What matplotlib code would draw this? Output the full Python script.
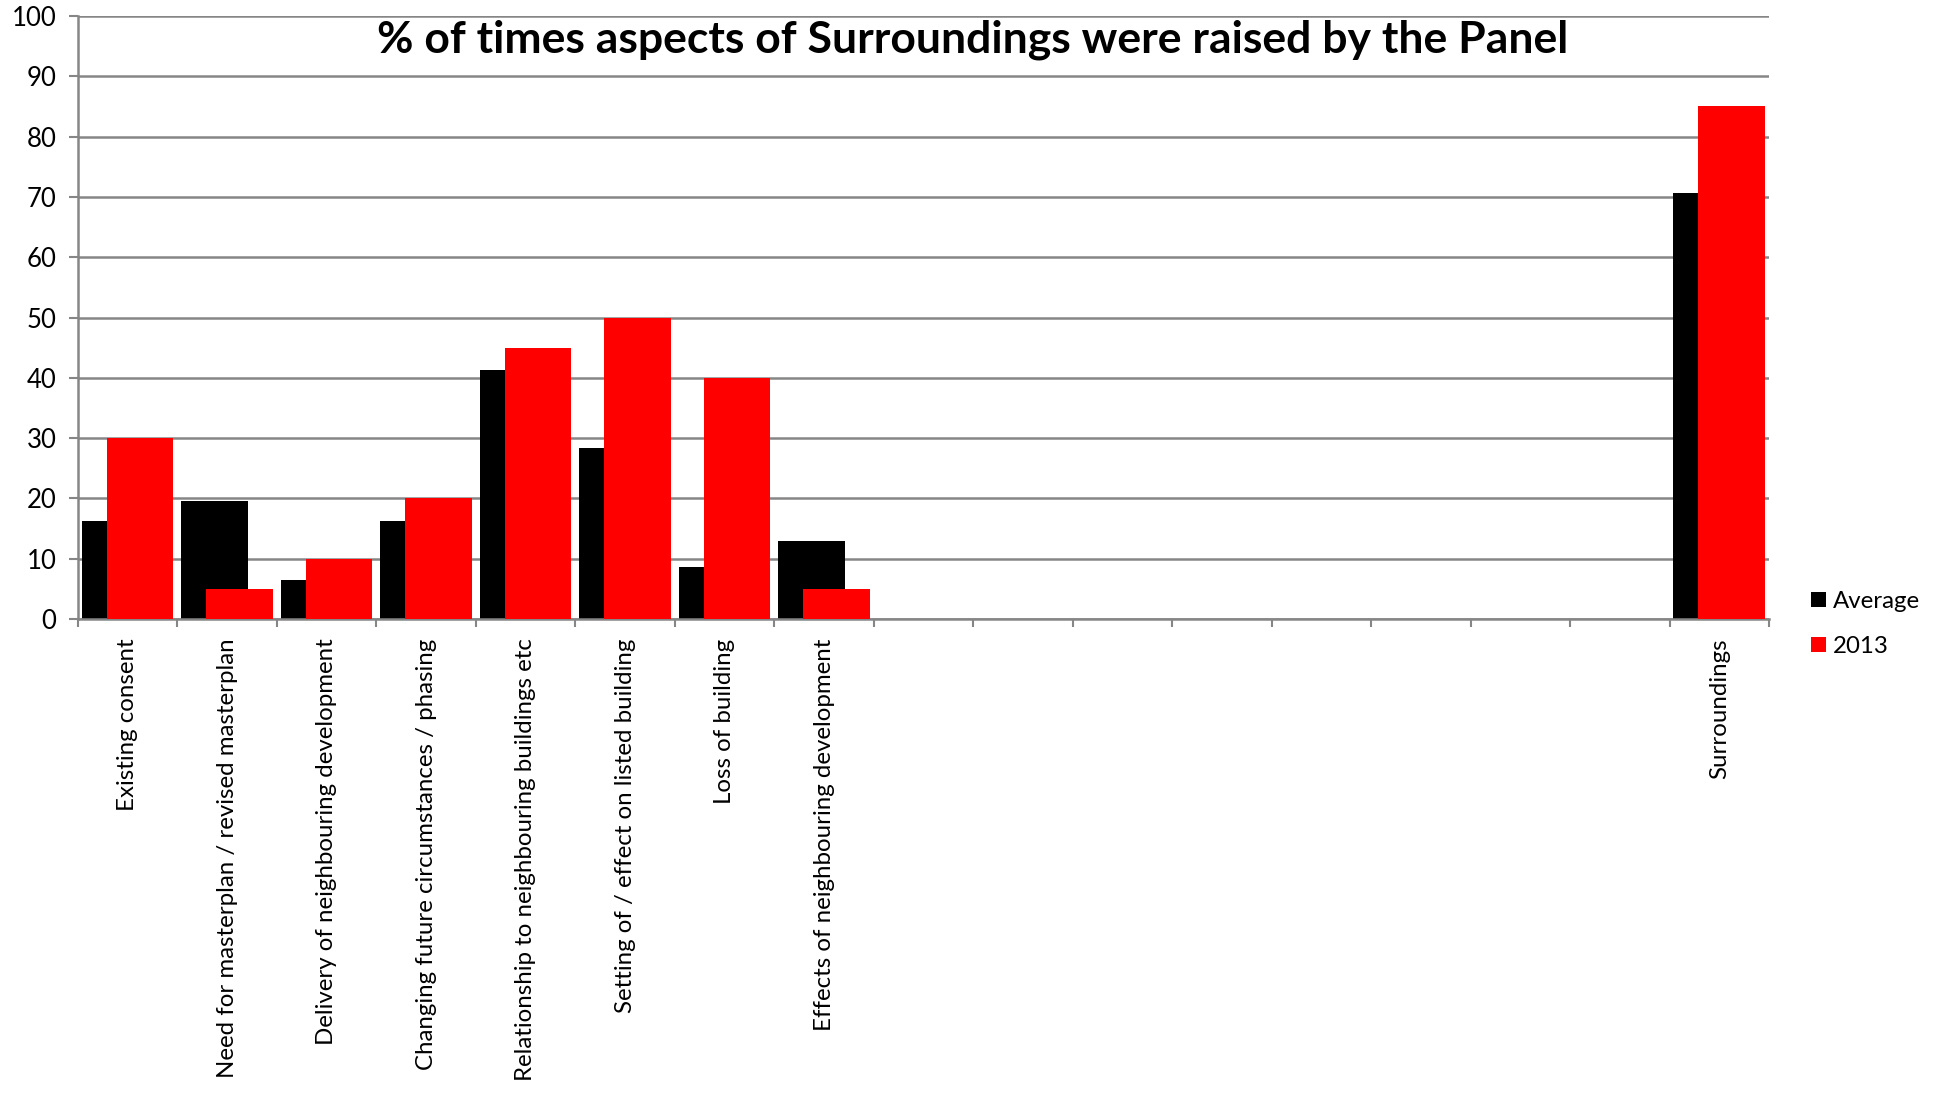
import numpy as np
import matplotlib.pyplot as plt

plt.rcParams['font.family'] = ['Lato', 'DejaVu Sans']

# categories (empty slots are kept as blank labels, like in the original sheet)
categories = [
    "Existing consent",
    "Need for masterplan / revised masterplan",
    "Delivery of neighbouring development",
    "Changing future circumstances / phasing",
    "Relationship to neighbouring buildings etc",
    "Setting of / effect on listed building",
    "Loss of building",
    "Effects of neighbouring development",
    "", "", "", "", "", "", "", "",
    "Surroundings",
]
nan = np.nan
average = [16.3, 19.6, 6.5, 16.3, 41.3, 28.3, 8.7, 13.0,
           nan, nan, nan, nan, nan, nan, nan, nan, 70.7]
y2013 = [30, 5, 10, 20, 45, 50, 40, 5,
         nan, nan, nan, nan, nan, nan, nan, nan, 85]

grid_col = '#868686'

fig = plt.figure(figsize=(19.45, 10.96), dpi=100)
ax = fig.add_axes([0.0401, 0.4352, 0.8694, 0.5502])

x = np.arange(len(categories))
w = 0.67
ax.bar(x - 0.125, average, width=w, color='black', label='Average', zorder=2)
ax.bar(x + 0.125, y2013, width=w, color='#FF0000', label='2013', zorder=3)

ax.set_xlim(-0.5, len(categories) - 0.5)
ax.set_ylim(0, 100)
ax.set_yticks(np.arange(0, 101, 10))
ax.yaxis.grid(True, color=grid_col, linewidth=1.8, zorder=0)
ax.set_axisbelow(True)

ax.set_xticks(x)
ax.set_xticklabels(categories, rotation=90, va='top', ha='center', fontsize=17.3)
ax.set_xticks(np.arange(-0.5, len(categories)), minor=True)
ax.tick_params(axis='x', which='major', length=0, pad=14)
ax.tick_params(axis='x', which='minor', length=6, width=1.5, color=grid_col, direction='out')
ax.tick_params(axis='y', length=6.5, width=1.5, color=grid_col, pad=9, labelsize=18.5)

for s in ['top', 'right']:
    ax.spines[s].set_visible(False)
for s in ['left', 'bottom']:
    ax.spines[s].set_color(grid_col)
    ax.spines[s].set_linewidth(1.8)

fig.text(0.5, 0.964, "% of times aspects of Surroundings were raised by the Panel",
         ha='center', va='center', fontsize=32, fontweight='bold')

fig.legend(loc='center left', bbox_to_anchor=(0.925, 0.431), frameon=False,
           fontsize=17.3, handlelength=0.6, handleheight=0.6, handletextpad=0.3,
           labelspacing=1.0, borderpad=0)

fig.savefig('out.png', dpi=100)
